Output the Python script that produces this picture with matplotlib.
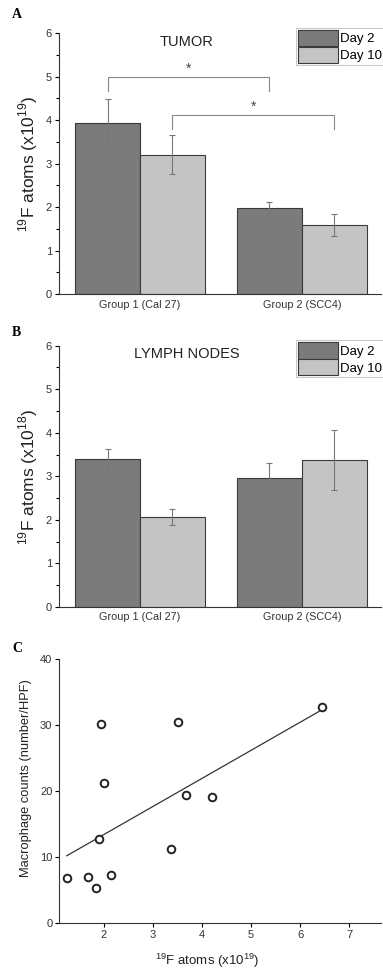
import matplotlib
matplotlib.use("Agg")
import matplotlib.pyplot as plt
from matplotlib.ticker import MultipleLocator
import numpy as np

plt.rcParams['font.family'] = ['Liberation Sans', 'DejaVu Sans']
plt.rcParams['mathtext.fontset'] = 'custom'
plt.rcParams['mathtext.rm'] = 'Liberation Sans'

# data
groups = ['Group 1 (Cal 27)', 'Group 2 (SCC4)']
series = ['Day 2', 'Day 10']

tumor_day2 = [3.93, 1.98]
tumor_day2_err = [0.56, 0.14]
tumor_day10 = [3.20, 1.59]
tumor_day10_err = [0.45, 0.25]

lymph_day2 = [3.39, 2.96]
lymph_day2_err = [0.24, 0.35]
lymph_day10 = [2.06, 3.37]
lymph_day10_err = [0.19, 0.69]

f19_atoms = [1.25, 1.69, 1.84, 1.90, 1.95, 2.01, 2.16, 3.38, 3.51, 3.67, 4.21, 6.44]
macrophages = [6.8, 6.9, 5.2, 12.7, 30.2, 21.2, 7.3, 11.2, 30.4, 19.3, 19.0, 32.7]

DARK = '#7b7b7b'
LIGHT = '#c4c4c4'
EDGE = '#3a3a3a'
ERR = '#777777'
TXT = '#333333'

fig = plt.figure(figsize=(3.83, 9.71), dpi=100)
ax_a = fig.add_axes([0.154, 0.697, 0.841, 0.269])
ax_b = fig.add_axes([0.154, 0.375, 0.841, 0.269])
ax_c = fig.add_axes([0.155, 0.0497, 0.84, 0.2716])


def bar_panel(ax, d2, e2, d10, e10, title, ylabel):
    x = np.arange(len(groups))
    w = 0.4
    ax.bar(x - w / 2, d2, w, color=DARK, edgecolor=EDGE, linewidth=0.8, label=series[0])
    ax.bar(x + w / 2, d10, w, color=LIGHT, edgecolor=EDGE, linewidth=0.8, label=series[1])
    ax.errorbar(x - w / 2, d2, yerr=e2, fmt='none', ecolor=ERR, elinewidth=0.8, capsize=2, capthick=0.8)
    ax.errorbar(x + w / 2, d10, yerr=e10, fmt='none', ecolor=ERR, elinewidth=0.8, capsize=2, capthick=0.8)
    ax.set_xlim(-0.5, 1.49)
    ax.set_ylim(0, 6)
    ax.set_xticks(x)
    ax.set_xticklabels(groups, fontsize=7.8, color=TXT)
    ax.tick_params(axis='x', length=0, pad=4)
    ax.yaxis.set_major_locator(MultipleLocator(1))
    ax.yaxis.set_minor_locator(MultipleLocator(0.5))
    ax.tick_params(axis='y', which='major', length=3, labelsize=8, labelcolor=TXT, width=0.8, pad=2)
    ax.tick_params(axis='y', which='minor', length=2, width=0.8)
    for s in ['top', 'right']:
        ax.spines[s].set_visible(False)
    for s in ['left', 'bottom']:
        ax.spines[s].set_color(TXT)
        ax.spines[s].set_linewidth(0.8)
    ax.set_ylabel(ylabel, fontsize=12.5, color='#222222', labelpad=4)
    ax.text(0.29, 5.8, title, ha='center', va='center', fontsize=10.5, color='#222222')
    leg = ax.legend(loc='upper right', bbox_to_anchor=(1.01, 1.02), fontsize=9.5,
                    frameon=True, fancybox=False, handlelength=3.0, handleheight=1.5,
                    handletextpad=0.2, borderpad=0.15, labelspacing=0.05, borderaxespad=0)
    leg.get_frame().set_edgecolor('#bbbbbb')
    leg.get_frame().set_linewidth(0.8)


bar_panel(ax_a, tumor_day2, tumor_day2_err, tumor_day10, tumor_day10_err,
          'TUMOR', r'$^{19}$F atoms (x10$^{19}$)')
bar_panel(ax_b, lymph_day2, lymph_day2_err, lymph_day10, lymph_day10_err,
          'LYMPH NODES', r'$^{19}$F atoms (x10$^{18}$)')

# significance brackets in panel A
w = 0.4
brackets = [((0 - w / 2, 1 - w / 2), 5.0, 4.66), ((0 + w / 2, 1 + w / 2), 4.12, 3.79)]
for (x0, x1), ytop, ybot in brackets:
    ax_a.plot([x0, x0, x1, x1], [ybot, ytop, ytop, ybot], color='#888888', linewidth=0.8)
    ax_a.text((x0 + x1) / 2, ytop + 0.02, '*', ha='center', va='bottom', fontsize=10, color='#444444')

# panel C scatter
ax_c.scatter(f19_atoms, macrophages, s=30, facecolors='white', edgecolors='#222222', linewidths=1.4, zorder=3)
slope, intercept = np.polyfit(f19_atoms, macrophages, 1)
xs = np.array([min(f19_atoms), max(f19_atoms)])
ax_c.plot(xs, slope * xs + intercept, color='#333333', linewidth=0.9)
ax_c.set_xlim(1.1, 7.65)
ax_c.set_ylim(0, 40)
ax_c.set_xticks([2, 3, 4, 5, 6, 7])
ax_c.set_yticks([0, 10, 20, 30, 40])
ax_c.tick_params(axis='both', length=3, labelsize=8, labelcolor=TXT, width=0.8, pad=2)
for s in ['top', 'right']:
    ax_c.spines[s].set_visible(False)
for s in ['left', 'bottom']:
    ax_c.spines[s].set_color(TXT)
    ax_c.spines[s].set_linewidth(0.8)
ax_c.set_ylabel('Macrophage counts (number/HPF)', fontsize=9.3, color='#222222')
ax_c.yaxis.set_label_coords(-0.085, 0.55)
ax_c.set_xlabel(r'$^{19}$F atoms (x10$^{19}$)', fontsize=9.5, color='#222222')
ax_c.xaxis.set_label_coords(0.46, -0.112)

# panel letters
for letter, y in [('A', 14), ('B', 332), ('C', 648)]:
    fig.text(12 / 383, 1 - y / 971, letter, fontsize=10, fontweight='bold',
             family='Liberation Serif', ha='left', va='center')

fig.savefig('out.png', dpi=100)
